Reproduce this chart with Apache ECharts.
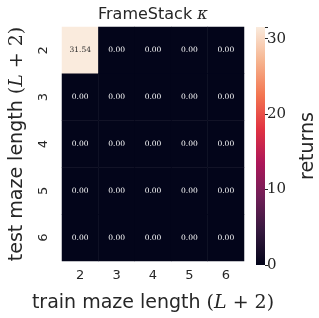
<!DOCTYPE html>
<html><head><meta charset="utf-8">
<script src="https://cdn.jsdelivr.net/npm/echarts@6/dist/echarts.min.js"></script>
<style>html,body{margin:0;padding:0;background:#fff}#c{width:319px;height:318px}</style>
</head><body><div id="c"></div>
<script>
const trainLengths = ['2','3','4','5','6'];
const testLengths = ['2','3','4','5','6'];
// returns[testIndex][trainIndex]
const returnsRow2 = [31.54, 0.00, 0.00, 0.00, 0.00];
const returnsRow3 = [0.00, 0.00, 0.00, 0.00, 0.00];
const returnsRow4 = [0.00, 0.00, 0.00, 0.00, 0.00];
const returnsRow5 = [0.00, 0.00, 0.00, 0.00, 0.00];
const returnsRow6 = [0.00, 0.00, 0.00, 0.00, 0.00];
const colorbarTicks = [0, 10, 20, 30];

const rows = [returnsRow2, returnsRow3, returnsRow4, returnsRow5, returnsRow6];
const vmax = Math.max(...rows.flat());
const vmin = 0;
const rocket = ['#03051a','#35193e','#701f57','#ad1759','#e13342','#f37651','#f6b48f','#faebdd'];
const rocketPos = [0, 1/7, 2/7, 3/7, 4/7, 5/7, 6/7, 1];

const data = [];
rows.forEach((row, yi) => row.forEach((v, xi) => {
  data.push({value: [xi, yi, v], label: {color: v > vmax/2 ? '#262626' : '#ffffff'}});
}));

const chart = echarts.init(document.getElementById('c'), null, {renderer: 'canvas'});
const serif = 'DejaVu Serif';
const sans = 'DejaVu Sans';
const mathRich = {
  n: {fontFamily: sans, fontSize: 19, color: '#262626'},
  p: {fontFamily: serif, fontSize: 19, color: '#262626'},
  i: {fontFamily: serif, fontStyle: 'italic', fontSize: 19, color: '#262626'}
};
chart.setOption({
  animation: false,
  title: {
    text: '{n|FrameStack }{i|κ}', left: 93, top: 2,
    textStyle: {fontWeight: 'normal', rich: {
      n: {fontFamily: sans, fontSize: 16, fontWeight: 'normal', color: '#262626'},
      i: {fontFamily: serif, fontStyle: 'italic', fontWeight: 'normal', fontSize: 16, color: '#262626'}
    }}
  },
  grid: [
    {left: 52, top: 27, width: 192, height: 238},
    {left: 256, top: 27, width: 12, height: 238}
  ],
  xAxis: [
    {type: 'category', data: trainLengths, gridIndex: 0,
     axisLine: {show: false}, axisTick: {show: false}, splitLine: {show: false},
     axisLabel: {fontFamily: sans, fontSize: 13, color: '#262626', margin: 8},
     name: '{n|train maze length }{p|(}{i|L}{p| + 2)}', nameLocation: 'middle', nameGap: 33,
     nameTextStyle: {rich: mathRich}},
    {type: 'category', data: ['c'], gridIndex: 1, show: false}
  ],
  yAxis: [
    {type: 'category', data: testLengths, gridIndex: 0, inverse: true,
     axisLine: {show: false}, axisTick: {show: false}, splitLine: {show: false},
     axisLabel: {fontFamily: sans, fontSize: 13, color: '#262626', margin: 12, rotate: 90},
     name: '{n|test maze length }{p|(}{i|L}{p| + 2)}', nameLocation: 'middle', nameGap: 35, nameRotate: 90,
     nameTextStyle: {rich: mathRich}},
    {type: 'value', gridIndex: 1, position: 'right', min: vmin, max: vmax, interval: 10,
     axisLine: {show: false}, splitLine: {show: false},
     axisTick: {show: true, length: 3, lineStyle: {color: '#262626'}},
     axisLabel: {fontFamily: serif, fontSize: 15, color: '#262626', margin: 2,
       formatter: v => colorbarTicks.includes(v) ? String(v) : ''},
     name: 'returns', nameLocation: 'middle', nameGap: 34, nameRotate: 90,
     nameTextStyle: {fontFamily: sans, fontSize: 19, color: '#262626'}}
  ],
  visualMap: {
    show: false, seriesIndex: 0, min: vmin, max: vmax, dimension: 2,
    inRange: {color: rocket}
  },
  series: [
    {type: 'heatmap', xAxisIndex: 0, yAxisIndex: 0, data: data,
     label: {show: true, fontFamily: serif, fontSize: 7.5, formatter: p => p.value[2].toFixed(2)},
     itemStyle: {borderWidth: 0}},
    {type: 'bar', xAxisIndex: 1, yAxisIndex: 1, barWidth: '100%', data: [vmax],
     itemStyle: {color: new echarts.graphic.LinearGradient(0, 1, 0, 0,
       rocket.map((c, k) => ({offset: rocketPos[k], color: c})))}}
  ]
});
</script></body></html>
